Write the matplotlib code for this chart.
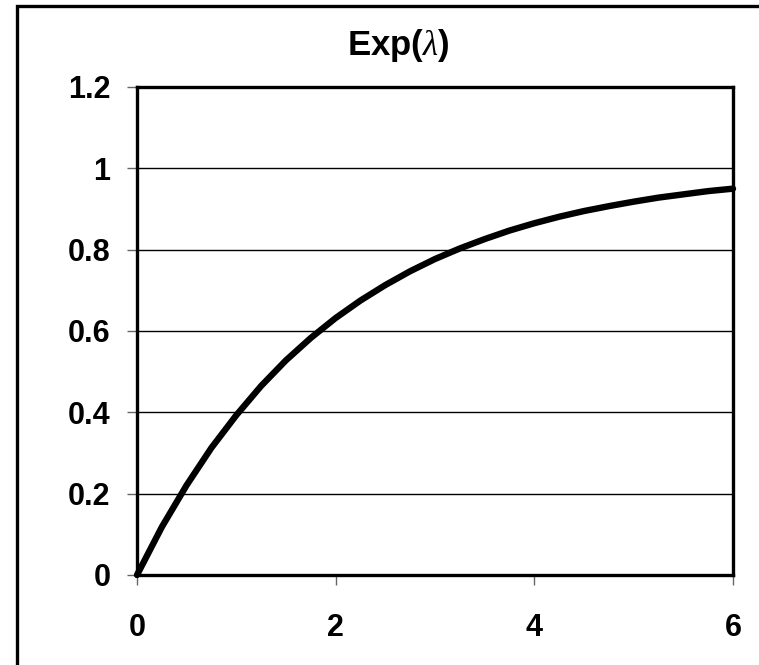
"""Exponential CDF chart, Excel style."""
import matplotlib
matplotlib.use("Agg")
import matplotlib.pyplot as plt
from matplotlib.patches import Rectangle

plt.rcParams["font.family"] = ["Liberation Sans", "DejaVu Sans"]
plt.rcParams["mathtext.fontset"] = "custom"
plt.rcParams["mathtext.it"] = "Liberation Serif:italic"
plt.rcParams["mathtext.rm"] = "Liberation Sans:bold"

# values
x_vals = [0, 0.25, 0.5, 0.75, 1, 1.25, 1.5, 1.75, 2, 2.25, 2.5, 2.75, 3,
          3.25, 3.5, 3.75, 4, 4.25, 4.5, 4.75, 5, 5.25, 5.5, 5.75, 6]
y_vals = [0, 0.118, 0.221, 0.313, 0.393, 0.465, 0.528, 0.583, 0.632, 0.675,
          0.713, 0.747, 0.777, 0.803, 0.826, 0.847, 0.865, 0.881, 0.895,
          0.907, 0.918, 0.928, 0.936, 0.944, 0.950]
x_ticks = [0, 2, 4, 6]
y_ticks = [0, 0.2, 0.4, 0.6, 0.8, 1, 1.2]
y_labels = ["0", "0.2", "0.4", "0.6", "0.8", "1", "1.2"]
title = r"Exp($\lambda$)"

W, H = 759, 665
fig = plt.figure(figsize=(W / 100, H / 100), dpi=100)
ax = fig.add_axes([137 / W, 1 - 575 / H, (733 - 137) / W, (575 - 87) / H])

# chart area border (right/bottom edges fall outside the image)
fig.patches.append(Rectangle((17 / W, -0.1), 1.2, 1 - 6 / H + 0.1,
                             transform=fig.transFigure, fill=False,
                             edgecolor="black", linewidth=2.4))

for y in y_ticks[1:-1]:
    ax.axhline(y, color="black", linewidth=1.0, zorder=1)

ax.plot(x_vals, y_vals, color="black", linewidth=4.6,
        solid_capstyle="round", zorder=3, clip_on=False)

ax.set_xlim(0, 6)
ax.set_ylim(0, 1.2)
ax.set_xticks(x_ticks)
ax.set_xticklabels([str(t) for t in x_ticks])
ax.set_yticks(y_ticks)
ax.set_yticklabels(y_labels)
for s in ax.spines.values():
    s.set_linewidth(2.4)
ax.tick_params(axis="both", direction="out", length=7, width=1,
               color="#666666", labelsize=22)
ax.tick_params(axis="y", pad=12)
ax.tick_params(axis="x", pad=20)
for lab in ax.get_xticklabels() + ax.get_yticklabels():
    lab.set_fontweight("bold")

fig.text(398 / W, 1 - 45 / H, title, ha="center", va="center",
         fontsize=25, fontweight="bold")

fig.savefig("out.png", dpi=100)
